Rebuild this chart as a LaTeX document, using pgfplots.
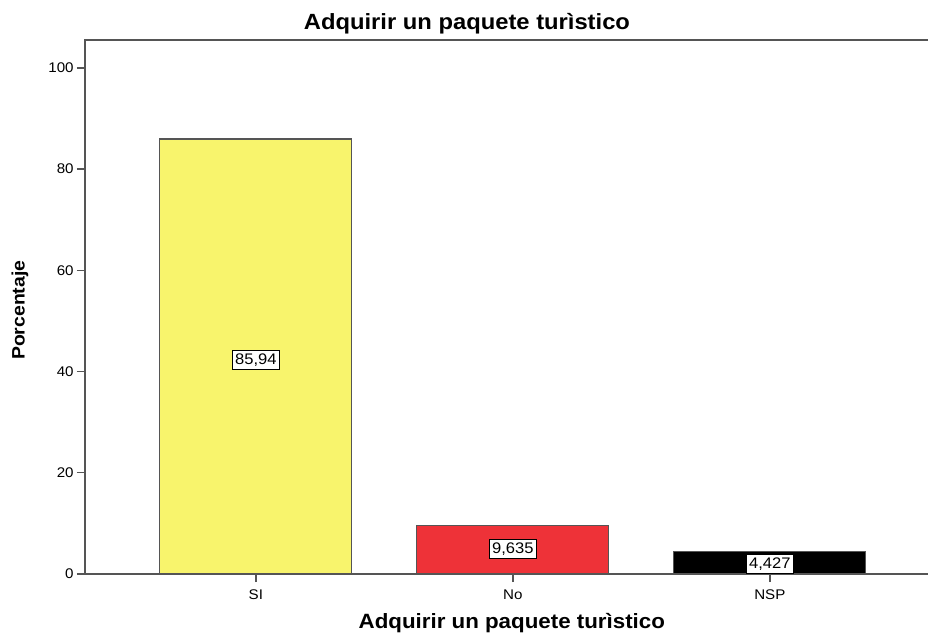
\documentclass[border=0pt]{standalone}
\usepackage{fontspec}
\setmainfont{Liberation Sans}[FakeStretch=1.08]
\usepackage{pgfplots}
\pgfplotsset{compat=1.18}

\definecolor{barYellow}{RGB}{248,244,108}
\definecolor{barRed}{RGB}{238,50,56}
\definecolor{frameGray}{RGB}{85,85,85}

\begin{document}
\begin{tikzpicture}[x=1pt,y=1pt]
% picture is 928x632 px, 1px = 0.75pt
\useasboundingbox (0,0) rectangle (696,474);
\begin{axis}[
  at={(63.75pt,43.5pt)}, anchor=south west,
  scale only axis,
  width=642.75pt, height=400.5pt,
  xmin=-0.665, xmax=2.67,
  ymin=0, ymax=105.5,
  xtick={0,1,2},
  xticklabels={SI, No, NSP},
  ytick={0,20,...,100},
  tick pos=left,
  tick align=outside,
  major tick length=6pt,
  tick style={frameGray, line width=1pt},
  axis line style={frameGray, line width=1.3pt},
  tick label style={font=\fontsize{10.5}{12}\selectfont},
  xticklabel style={yshift=-2pt},
  yticklabel style={xshift=1pt},
  /pgf/number format/assume math mode=true,
  title={\bfseries Adquirir un paquete turìstico},
  title style={at={(0.4457,1)}, anchor=base, yshift=2pt,
               font=\fontsize{16.5}{18}\selectfont},
  xlabel={\bfseries Adquirir un paquete turìstico},
  xlabel style={at={(0.498,0)}, anchor=base, yshift=-40.5pt,
                font=\fontsize{15.5}{17}\selectfont},
  ylabel={\bfseries Porcentaje},
  ylabel style={at={(-0.0758,0.494)}, anchor=center,
                font=\fontsize{13.5}{15}\selectfont},
  ybar, bar width=0.747, bar shift=0pt,
  clip=false,
]
  \addplot[fill=barYellow, draw=frameGray, line width=0.8pt]
    coordinates {(0,85.94)};
  \addplot[fill=barRed, draw=frameGray, line width=0.8pt]
    coordinates {(1,9.635)};
  \addplot[fill=black, draw=frameGray, line width=0.8pt]
    coordinates {(2,4.427)};
  % value boxes in the middle of each bar
  \addplot[only marks, mark=none, forget plot,
    nodes near coords, point meta=explicit symbolic,
    every node near coord/.style={anchor=center, fill=white, draw=black,
      line width=0.6pt, inner xsep=2pt, inner ysep=2.5pt, text=black,
      font=\fontsize{11.5}{13}\selectfont}]
    coordinates {(0,42.3)[85,94] (1,4.9)[9,635] (2,2.0)[4,427]};
\end{axis}
\end{tikzpicture}
\end{document}
